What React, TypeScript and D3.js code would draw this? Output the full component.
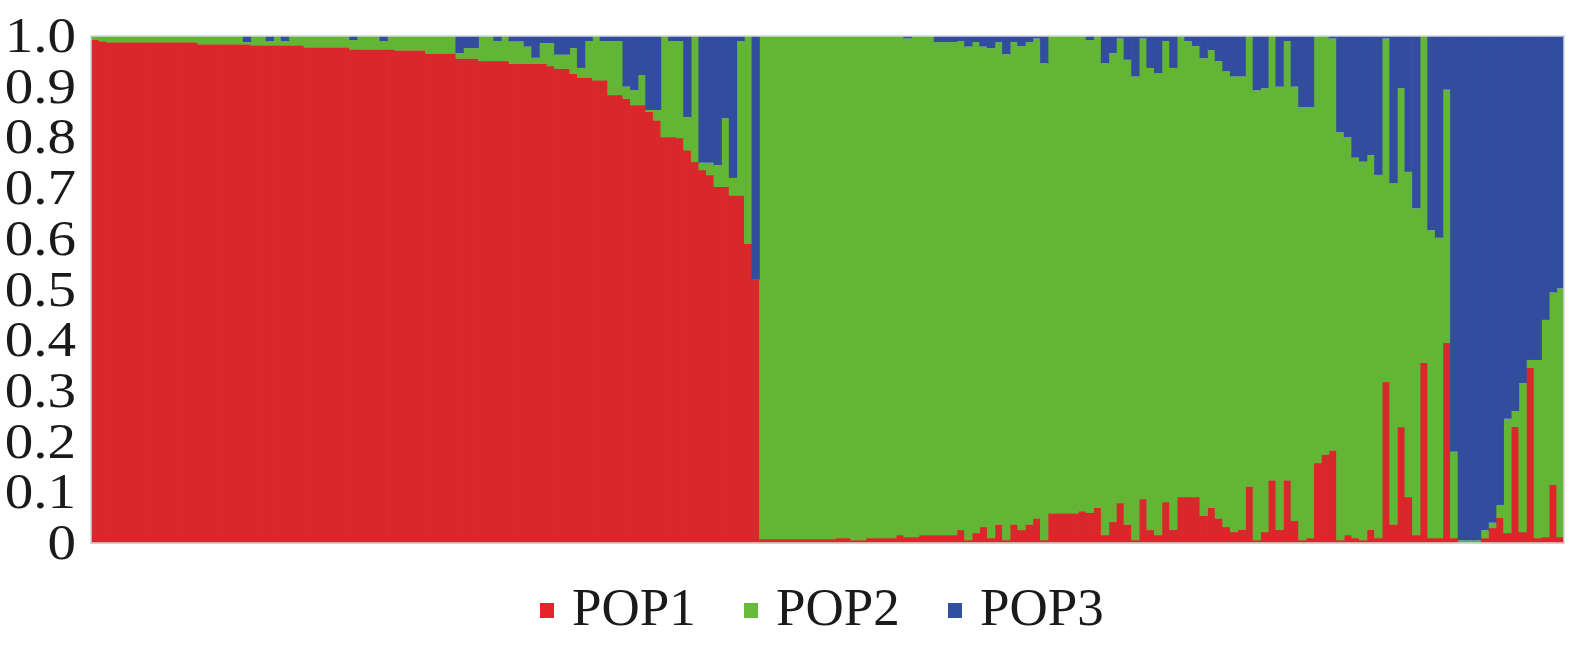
import React from "react";
import * as d3 from "d3";

// Ancestry proportions per individual (K = 3)
const POP1 = [
  0.993, 0.990, 0.988, 0.988, 0.988, 0.988, 0.988, 0.988, 0.988, 0.988,
  0.988, 0.988, 0.988, 0.988, 0.984, 0.984, 0.984, 0.984, 0.984, 0.984,
  0.984, 0.982, 0.982, 0.982, 0.982, 0.982, 0.982, 0.982, 0.978, 0.978,
  0.978, 0.978, 0.978, 0.978, 0.974, 0.974, 0.974, 0.974, 0.974, 0.974,
  0.972, 0.972, 0.972, 0.972, 0.966, 0.966, 0.966, 0.966, 0.956, 0.956,
  0.956, 0.951, 0.951, 0.951, 0.951, 0.946, 0.946, 0.946, 0.946, 0.946,
  0.941, 0.936, 0.936, 0.926, 0.918, 0.918, 0.913, 0.913, 0.884, 0.884,
  0.877, 0.864, 0.864, 0.851, 0.834, 0.801, 0.801, 0.799, 0.775, 0.752,
  0.736, 0.726, 0.703, 0.703, 0.686, 0.686, 0.591, 0.519, 0.008, 0.008,
  0.008, 0.008, 0.008, 0.008, 0.008, 0.008, 0.008, 0.008, 0.010, 0.010,
  0.006, 0.006, 0.010, 0.010, 0.010, 0.010, 0.016, 0.012, 0.012, 0.016,
  0.016, 0.016, 0.016, 0.016, 0.026, 0.006, 0.020, 0.032, 0.010, 0.037,
  0.006, 0.037, 0.026, 0.037, 0.049, 0.006, 0.059, 0.059, 0.059, 0.059,
  0.063, 0.060, 0.070, 0.016, 0.042, 0.079, 0.037, 0.006, 0.087, 0.026,
  0.016, 0.081, 0.027, 0.091, 0.091, 0.091, 0.054, 0.070, 0.049, 0.032,
  0.022, 0.027, 0.112, 0.006, 0.022, 0.124, 0.027, 0.124, 0.044, 0.006,
  0.010, 0.158, 0.175, 0.183, 0.006, 0.016, 0.010, 0.006, 0.027, 0.010,
  0.318, 0.037, 0.229, 0.091, 0.016, 0.356, 0.010, 0.010, 0.395, 0.010,
  0.000, 0.000, 0.000, 0.010, 0.030, 0.050, 0.020, 0.230, 0.022, 0.346,
  0.010, 0.012, 0.115, 0.012,
];

const POP2 = [
  0.007, 0.010, 0.012, 0.012, 0.012, 0.012, 0.012, 0.012, 0.012, 0.012,
  0.012, 0.012, 0.012, 0.012, 0.016, 0.016, 0.016, 0.016, 0.016, 0.016,
  0.004, 0.018, 0.018, 0.008, 0.018, 0.008, 0.018, 0.018, 0.022, 0.022,
  0.022, 0.022, 0.022, 0.022, 0.018, 0.026, 0.026, 0.026, 0.016, 0.026,
  0.028, 0.028, 0.028, 0.028, 0.034, 0.034, 0.034, 0.034, 0.010, 0.020,
  0.020, 0.049, 0.049, 0.039, 0.049, 0.043, 0.043, 0.033, 0.011, 0.040,
  0.045, 0.027, 0.027, 0.050, 0.019, 0.072, 0.087, 0.077, 0.106, 0.106,
  0.023, 0.029, 0.059, 0.003, 0.020, 0.199, 0.189, 0.191, 0.065, 0.248,
  0.014, 0.024, 0.042, 0.135, 0.034, 0.304, 0.409, 0.000, 0.992, 0.992,
  0.992, 0.992, 0.992, 0.992, 0.992, 0.992, 0.992, 0.992, 0.990, 0.990,
  0.994, 0.994, 0.990, 0.990, 0.990, 0.990, 0.984, 0.983, 0.988, 0.984,
  0.984, 0.972, 0.972, 0.972, 0.964, 0.973, 0.968, 0.947, 0.966, 0.951,
  0.958, 0.951, 0.954, 0.951, 0.946, 0.940, 0.941, 0.941, 0.941, 0.941,
  0.937, 0.932, 0.930, 0.930, 0.924, 0.916, 0.916, 0.914, 0.908, 0.911,
  0.911, 0.909, 0.910, 0.909, 0.899, 0.889, 0.902, 0.902, 0.901, 0.898,
  0.898, 0.893, 0.888, 0.887, 0.875, 0.876, 0.873, 0.866, 0.856, 0.854,
  0.850, 0.842, 0.825, 0.812, 0.804, 0.784, 0.750, 0.746, 0.738, 0.716,
  0.677, 0.673, 0.668, 0.641, 0.644, 0.644, 0.607, 0.592, 0.499, 0.170,
  0.005, 0.005, 0.005, 0.015, 0.010, 0.025, 0.225, 0.030, 0.293, 0.015,
  0.351, 0.428, 0.379, 0.490,
];

const POP3 = [
  0.000, 0.000, 0.000, 0.000, 0.000, 0.000, 0.000, 0.000, 0.000, 0.000,
  0.000, 0.000, 0.000, 0.000, 0.000, 0.000, 0.000, 0.000, 0.000, 0.000,
  0.012, 0.000, 0.000, 0.010, 0.000, 0.010, 0.000, 0.000, 0.000, 0.000,
  0.000, 0.000, 0.000, 0.000, 0.008, 0.000, 0.000, 0.000, 0.010, 0.000,
  0.000, 0.000, 0.000, 0.000, 0.000, 0.000, 0.000, 0.000, 0.034, 0.024,
  0.024, 0.000, 0.000, 0.010, 0.000, 0.011, 0.011, 0.021, 0.043, 0.014,
  0.014, 0.037, 0.037, 0.024, 0.063, 0.010, 0.000, 0.010, 0.010, 0.010,
  0.100, 0.107, 0.077, 0.146, 0.146, 0.000, 0.010, 0.010, 0.160, 0.000,
  0.250, 0.250, 0.255, 0.162, 0.280, 0.010, 0.000, 0.481, 0.000, 0.000,
  0.000, 0.000, 0.000, 0.000, 0.000, 0.000, 0.000, 0.000, 0.000, 0.000,
  0.000, 0.000, 0.000, 0.000, 0.000, 0.000, 0.000, 0.005, 0.000, 0.000,
  0.000, 0.012, 0.012, 0.012, 0.010, 0.021, 0.012, 0.021, 0.024, 0.012,
  0.036, 0.012, 0.020, 0.012, 0.005, 0.054, 0.000, 0.000, 0.000, 0.000,
  0.000, 0.008, 0.000, 0.054, 0.034, 0.005, 0.047, 0.080, 0.005, 0.063,
  0.073, 0.010, 0.063, 0.000, 0.010, 0.020, 0.044, 0.028, 0.050, 0.070,
  0.080, 0.080, 0.000, 0.107, 0.103, 0.000, 0.100, 0.010, 0.100, 0.140,
  0.140, 0.000, 0.000, 0.005, 0.190, 0.200, 0.240, 0.248, 0.235, 0.274,
  0.005, 0.290, 0.103, 0.268, 0.340, 0.000, 0.383, 0.398, 0.106, 0.820,
  0.995, 0.995, 0.995, 0.975, 0.960, 0.925, 0.755, 0.740, 0.685, 0.639,
  0.639, 0.560, 0.506, 0.498,
];

const SERIES = ["POP1", "POP2", "POP3"];
const BAR_COLORS = ["#d9272b", "#63b535", "#324d9e"];
const LEGEND_COLORS = ["#e8222a", "#66bb38", "#3150a0"];
const Y_TICKS = [0, 0.1, 0.2, 0.3, 0.4, 0.5, 0.6, 0.7, 0.8, 0.9, 1.0];
const Y_TICK_LABELS = ["0", "0.1", "0.2", "0.3", "0.4", "0.5", "0.6", "0.7", "0.8", "0.9", "1.0"];

const FONT = "'Liberation Serif', 'Times New Roman', Times, serif";

export default function App() {
  const W = 1575;
  const H = 648;
  const plot = { left: 91, right: 1564, top: 36, bottom: 543 };

  const ids = d3.range(POP1.length);
  const x = d3
    .scaleBand<number>()
    .domain(ids)
    .range([plot.left, plot.right])
    .padding(0);
  const y = d3.scaleLinear().domain([0, 1]).range([plot.bottom, plot.top]);

  const rows = ids.map((i) => ({
    POP1: POP1[i],
    POP2: POP2[i],
    POP3: POP3[i],
  }));
  const layers = d3.stack<any>().keys(SERIES)(rows);

  const bw = x.bandwidth();

  const legendX0 = 540;
  const legendStep = 204;

  return (
    <svg
      width={W}
      height={H}
      viewBox={`0 0 ${W} ${H}`}
      style={{ position: "absolute", left: 0, top: 0, display: "block", background: "#fff" }}
    >
      <g>
        {layers.map((layer, li) => (
          <g key={SERIES[li]} fill={BAR_COLORS[li]}>
            {layer.map((d, i) => {
              const y0 = y(d[0]);
              const y1 = y(d[1]);
              const h = y0 - y1;
              if (h <= 0) return null;
              const xi = x(i) as number;
              const extra = i === ids.length - 1 ? 0 : 0.7;
              return (
                <rect
                  key={i}
                  x={xi}
                  y={y1}
                  width={bw + extra}
                  height={h + (li < 2 ? 0.4 : 0)}
                />
              );
            })}
          </g>
        ))}
      </g>
      <rect
        x={plot.left}
        y={plot.top}
        width={plot.right - plot.left}
        height={plot.bottom - plot.top}
        fill="none"
        stroke="rgba(215,215,220,0.75)"
        strokeWidth={2}
      />
      <g fontFamily={FONT} fontSize={51} fill="#1a1a1a" textAnchor="end">
        {Y_TICKS.map((t, i) => (
          <text key={t} transform={`translate(76, ${y(t) + 16}) scale(1.12, 1)`}>
            {Y_TICK_LABELS[i]}
          </text>
        ))}
      </g>
      <g fontFamily={FONT} fontSize={53} fill="#1a1a1a">
        {SERIES.map((s, i) => {
          const lx = legendX0 + i * legendStep;
          return (
            <g key={s}>
              <rect x={lx} y={603} width={14} height={15} fill={LEGEND_COLORS[i]} />
              <text x={lx + 32} y={625}>
                {s}
              </text>
            </g>
          );
        })}
      </g>
    </svg>
  );
}
